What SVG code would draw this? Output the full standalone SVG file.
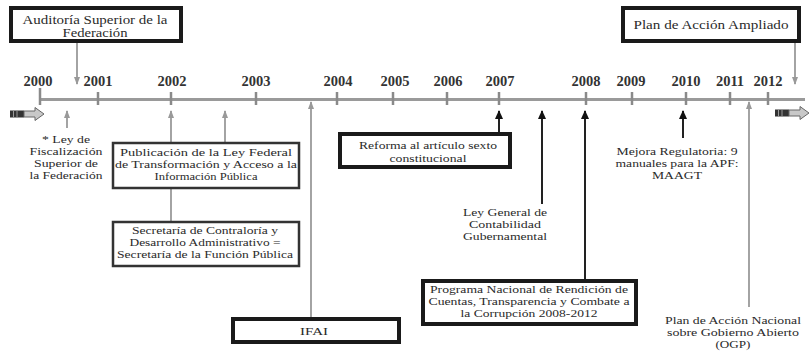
<svg xmlns="http://www.w3.org/2000/svg" width="809" height="355" viewBox="0 0 809 355" font-family="'Liberation Serif', 'DejaVu Serif', serif">
<style>
text{font-family:'Liberation Serif','DejaVu Serif',serif;fill:#2a2a2a;font-size:11.2px;text-anchor:middle}
.big{font-size:12.5px}
.yr{font-weight:bold;font-size:14.5px;fill:#333}
.tb{fill:#fff;stroke:#1a1a1a;stroke-width:4}
.bx{fill:#fff;stroke:#333;stroke-width:2.5}
.ax{stroke:#9a9a9a;stroke-width:3;fill:none}
.tk{stroke:#8a8a8a;stroke-width:2.5}
.g{stroke:#9a9a9a;stroke-width:1.8;fill:none}
.k{stroke:#222;stroke-width:2;fill:none}
</style>
<defs>
<marker id="ag" markerUnits="userSpaceOnUse" markerWidth="8" markerHeight="8" viewBox="0 0 8 8" refX="7" refY="4" orient="auto"><path d="M0,1 L8,4 L0,7 Z" fill="#999"/></marker>
<marker id="ak" markerUnits="userSpaceOnUse" markerWidth="9" markerHeight="9" viewBox="0 0 9 9" refX="8" refY="4.5" orient="auto"><path d="M0,0.5 L9,4.5 L0,8.5 Z" fill="#111"/></marker>
<g id="blk">
<rect x="0" y="-3.5" width="14" height="7" fill="#333"/>
<path d="M3.5,-3.5 V3.5 M7,-3.5 V3.5" stroke="#999" stroke-width="1"/>
<path d="M14,-3 H25 V-6.5 L34,0 L25,6.5 V3 H14 Z" fill="#c8c8c8" stroke="#666" stroke-width="1"/>
</g>
</defs>

<g id="timeline">
<line class="ax" x1="40" y1="99.5" x2="805" y2="99.5"/>
<line class="tk" x1="40" y1="88" x2="40" y2="105"/>
<line class="tk" x1="98" y1="92" x2="98" y2="105"/>
<line class="tk" x1="171" y1="92" x2="171" y2="105"/>
<line class="tk" x1="256" y1="92" x2="256" y2="105"/>
<line class="tk" x1="337" y1="92" x2="337" y2="105"/>
<line class="tk" x1="393" y1="92" x2="393" y2="105"/>
<line class="tk" x1="447" y1="92" x2="447" y2="105"/>
<line class="tk" x1="499" y1="92" x2="499" y2="105"/>
<line class="tk" x1="586" y1="92" x2="586" y2="105"/>
<line class="tk" x1="632" y1="92" x2="632" y2="105"/>
<line class="tk" x1="686" y1="92" x2="686" y2="105"/>
<line class="tk" x1="730" y1="92" x2="730" y2="105"/>
<line class="tk" x1="768" y1="92" x2="768" y2="105"/>
<text class="yr" x="38" y="86">2000</text>
<text class="yr" x="98" y="86">2001</text>
<text class="yr" x="172" y="86">2002</text>
<text class="yr" x="256" y="86">2003</text>
<text class="yr" x="338" y="86">2004</text>
<text class="yr" x="395" y="86">2005</text>
<text class="yr" x="448" y="86">2006</text>
<text class="yr" x="500" y="86">2007</text>
<text class="yr" x="586" y="86">2008</text>
<text class="yr" x="631" y="86">2009</text>
<text class="yr" x="686" y="86">2010</text>
<text class="yr" x="730" y="86">2011</text>
<text class="yr" x="768" y="86">2012</text>
<use href="#blk" x="10" y="114"/>
<use href="#blk" x="775" y="113"/>
</g>

<g id="connectors">
<line class="g" x1="77" y1="42" x2="77" y2="84" marker-end="url(#ag)"/>
<line class="g" x1="795" y1="42" x2="795" y2="84" marker-end="url(#ag)"/>
<line class="g" x1="67" y1="128" x2="67" y2="111" marker-end="url(#ag)"/>
<line class="g" x1="171" y1="143" x2="171" y2="111" marker-end="url(#ag)"/>
<line class="g" x1="171" y1="188" x2="171" y2="222"/>
<line class="g" x1="225" y1="143" x2="225" y2="111" marker-end="url(#ag)"/>
<line class="g" x1="311" y1="317" x2="311" y2="102" marker-end="url(#ag)"/>
<line class="k" x1="499" y1="133" x2="499" y2="111" marker-end="url(#ak)"/>
<line class="k" x1="542" y1="204" x2="542" y2="111" marker-end="url(#ak)"/>
<line class="k" x1="585" y1="280" x2="585" y2="111" marker-end="url(#ak)"/>
<line class="k" x1="683" y1="138" x2="683" y2="111" marker-end="url(#ak)"/>
<line class="g" x1="749" y1="307" x2="749" y2="102" marker-end="url(#ag)"/>
</g>

<g id="n-asf">
<rect class="tb" x="11" y="8" width="170" height="33"/>
<text class="big" x="95" y="23.5" textLength="145" lengthAdjust="spacingAndGlyphs">Auditoría Superior de la</text>
<text class="big" x="95" y="36.5" textLength="65" lengthAdjust="spacingAndGlyphs">Federación</text>
</g>
<g id="n-plan-ampliado">
<rect class="tb" x="623" y="8" width="176" height="33"/>
<text class="big" x="711" y="29" textLength="155" lengthAdjust="spacingAndGlyphs">Plan de Acción Ampliado</text>
</g>
<g id="n-ley-fisc">
<text x="66" y="143" textLength="48" lengthAdjust="spacingAndGlyphs">* Ley de</text>
<text x="66" y="155" textLength="73" lengthAdjust="spacingAndGlyphs">Fiscalización</text>
<text x="66" y="167" textLength="64" lengthAdjust="spacingAndGlyphs">Superior de</text>
<text x="66" y="179" textLength="73" lengthAdjust="spacingAndGlyphs">la Federación</text>
</g>
<g id="n-publicacion">
<rect class="bx" x="113" y="143" width="186" height="45"/>
<text x="206" y="156" textLength="172" lengthAdjust="spacingAndGlyphs">Publicación de la Ley Federal</text>
<text x="206" y="168" textLength="182" lengthAdjust="spacingAndGlyphs">de Transformación y Acceso a la</text>
<text x="206" y="180" textLength="103" lengthAdjust="spacingAndGlyphs">Información Pública</text>
</g>
<g id="n-secretaria">
<rect class="bx" x="113" y="222" width="186" height="44"/>
<text x="205" y="234" textLength="146" lengthAdjust="spacingAndGlyphs">Secretaría de Contraloría y</text>
<text x="205" y="246" textLength="151" lengthAdjust="spacingAndGlyphs">Desarrollo Administrativo =</text>
<text x="205" y="258" textLength="176" lengthAdjust="spacingAndGlyphs">Secretaría de la Función Pública</text>
</g>
<g id="n-ifai">
<rect class="tb" x="233" y="319" width="166" height="23"/>
<text x="314" y="335" textLength="28" lengthAdjust="spacingAndGlyphs">IFAI</text>
</g>
<g id="n-reforma">
<rect class="tb" x="340" y="134" width="170" height="33"/>
<text x="428" y="148.5" textLength="138" lengthAdjust="spacingAndGlyphs">Reforma al artículo sexto</text>
<text x="428" y="161.5" textLength="77" lengthAdjust="spacingAndGlyphs">constitucional</text>
</g>
<g id="n-ley-general">
<text x="505" y="216" textLength="84" lengthAdjust="spacingAndGlyphs">Ley General de</text>
<text x="505" y="228" textLength="72" lengthAdjust="spacingAndGlyphs">Contabilidad</text>
<text x="505" y="240" textLength="84" lengthAdjust="spacingAndGlyphs">Gubernamental</text>
</g>
<g id="n-programa">
<rect class="tb" x="423" y="281" width="213" height="43"/>
<text x="529" y="293" textLength="198" lengthAdjust="spacingAndGlyphs">Programa Nacional de Rendición de</text>
<text x="529" y="305" textLength="201" lengthAdjust="spacingAndGlyphs">Cuentas, Transparencia y Combate a</text>
<text x="529" y="317" textLength="137" lengthAdjust="spacingAndGlyphs">la Corrupción 2008-2012</text>
</g>
<g id="n-mejora">
<text x="677" y="155" textLength="121" lengthAdjust="spacingAndGlyphs">Mejora Regulatoria: 9</text>
<text x="677" y="167" textLength="123" lengthAdjust="spacingAndGlyphs">manuales para la APF:</text>
<text x="677" y="179" textLength="50" lengthAdjust="spacingAndGlyphs">MAAGT</text>
</g>
<g id="n-ogp">
<text x="733" y="324" textLength="136" lengthAdjust="spacingAndGlyphs">Plan de Acción Nacional</text>
<text x="733" y="336" textLength="132" lengthAdjust="spacingAndGlyphs">sobre Gobierno Abierto</text>
<text x="733" y="348" textLength="35" lengthAdjust="spacingAndGlyphs">(OGP)</text>
</g>
</svg>
